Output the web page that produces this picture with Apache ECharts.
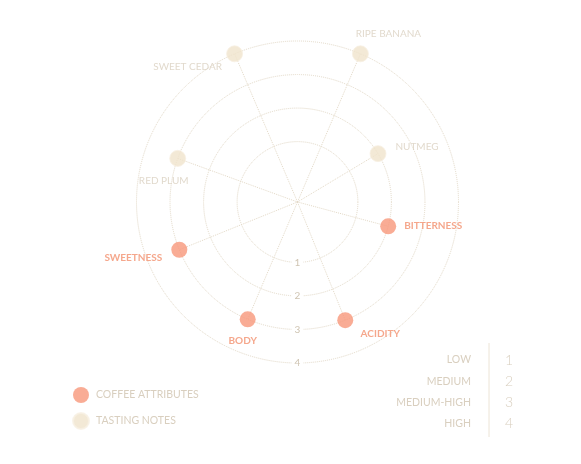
<!DOCTYPE html>
<html>
<head>
<meta charset="utf-8">
<script src="https://cdn.jsdelivr.net/npm/echarts@6/dist/echarts.min.js"></script>
<style>
  html, body { margin: 0; padding: 0; background: #fff; }
  #chart { width: 581px; height: 464px; }
</style>
</head>
<body>
<div id="chart"></div>
<script>
// coffee attributes (level 1-4, angle in degrees counter-clockwise from east)
const coffeeNames = ['BITTERNESS', 'ACIDITY', 'BODY', 'SWEETNESS'];
const coffeeLevels = [2, 3, 3, 3];
const coffeeAngles = [-15, -68, -113, -158];

// tasting notes
const tastingNames = ['NUTMEG', 'RIPE BANANA', 'SWEET CEDAR', 'RED PLUM'];
const tastingLevels = [2, 4, 4, 3];
const tastingAngles = [31, 67, 113, 160];

// key
const levelNames = ['LOW', 'MEDIUM', 'MEDIUM-HIGH', 'HIGH'];
const levelTicks = [1, 2, 3, 4];

const RADIUS_MIN = -0.8;
const ORANGE = '#f8977a';
const BEIGE = '#f0e3cc';
const GRID = '#e2d8c6';
const TEXT_LIGHT = '#d9cfbf';

// label placement around each dot
const labelOffsets = {
  'BITTERNESS': [45, -1],
  'ACIDITY': [35, 14],
  'BODY': [-5, 21],
  'SWEETNESS': [-46, 8],
  'NUTMEG': [39, -7],
  'RIPE BANANA': [28, -20],
  'SWEET CEDAR': [-47, 13],
  'RED PLUM': [-14, 22]
};

// angle axis starts at 270 (pointing down), so shift math angles
function toAxisAngle(a) {
  return ((a + 90) % 360 + 360) % 360;
}

function makePoints(names, levels, angles) {
  return names.map((name, i) => ({
    name: name,
    value: [levels[i], toAxisAngle(angles[i])],
    label: { offset: labelOffsets[name] }
  }));
}

const coffeeData = makePoints(coffeeNames, coffeeLevels, coffeeAngles);
const tastingData = makePoints(tastingNames, tastingLevels, tastingAngles);

// spokes from the centre to each dot
const spokeSeries = coffeeData.concat(tastingData).map(p => ({
  type: 'line',
  coordinateSystem: 'polar',
  data: [[RADIUS_MIN, p.value[1]], p.value],
  symbol: 'none',
  silent: true,
  z: 1,
  lineStyle: { color: GRID, width: 1, type: 'dotted' }
}));

const chart = echarts.init(document.getElementById('chart'));

const option = {
  animation: false,
  backgroundColor: '#fff',
  textStyle: { fontFamily: 'Lato' },
  polar: {
    center: [297.5, 202],
    radius: [0, 161]
  },
  angleAxis: {
    type: 'value',
    min: 0,
    max: 360,
    startAngle: 270,
    clockwise: false,
    axisLine: { show: false },
    axisTick: { show: false },
    axisLabel: { show: false },
    splitLine: { show: false }
  },
  radiusAxis: {
    type: 'value',
    min: RADIUS_MIN,
    max: 4,
    axisLine: { show: false },
    axisTick: { show: false, customValues: levelTicks },
    axisLabel: {
      customValues: levelTicks,
      margin: 0,
      align: 'center',
      verticalAlign: 'middle',
      color: '#cfc4b2',
      fontSize: 10,
      backgroundColor: '#fff',
      padding: [1, 3]
    },
    splitLine: {
      show: true,
      lineStyle: { color: GRID, width: 1, type: 'dotted' }
    }
  },
  legend: {
    orient: 'vertical',
    left: 67,
    top: 382,
    icon: 'circle',
    itemWidth: 16,
    itemHeight: 16,
    itemGap: 9,
    data: ['COFFEE ATTRIBUTES', 'TASTING NOTES'],
    textStyle: { color: TEXT_LIGHT, fontSize: 10.5, padding: [0, 0, 0, 2] }
  },
  graphic: [
    {
      type: 'line',
      shape: { x1: 489, y1: 343, x2: 489, y2: 437 },
      style: { stroke: '#ece4d6', lineWidth: 1 }
    }
  ].concat(levelNames.map((n, i) => ({
    type: 'text',
    x: 471,
    y: 360 + i * 21.3,
    style: {
      text: n,
      align: 'right',
      verticalAlign: 'middle',
      fill: TEXT_LIGHT,
      font: '10.5px Lato'
    }
  }))).concat(levelTicks.map((t, i) => ({
    type: 'text',
    x: 509,
    y: 360 + i * 21.3,
    style: {
      text: String(t),
      align: 'center',
      verticalAlign: 'middle',
      fill: TEXT_LIGHT,
      font: '300 14px Lato'
    }
  }))),
  series: spokeSeries.concat([
    {
      name: 'COFFEE ATTRIBUTES',
      type: 'scatter',
      coordinateSystem: 'polar',
      symbolSize: 16,
      z: 3,
      itemStyle: { color: ORANGE },
      label: {
        show: true,
        position: 'inside',
        formatter: '{b}',
        color: '#f2916f',
        fontWeight: 'bold',
        fontSize: 10
      },
      data: coffeeData
    },
    {
      name: 'TASTING NOTES',
      type: 'scatter',
      coordinateSystem: 'polar',
      symbolSize: 16,
      z: 3,
      itemStyle: { color: BEIGE, borderColor: '#f7f0e4', borderWidth: 1 },
      label: {
        show: true,
        position: 'inside',
        formatter: '{b}',
        color: TEXT_LIGHT,
        fontSize: 10
      },
      data: tastingData
    }
  ])
};

chart.setOption(option);
</script>
</body>
</html>
